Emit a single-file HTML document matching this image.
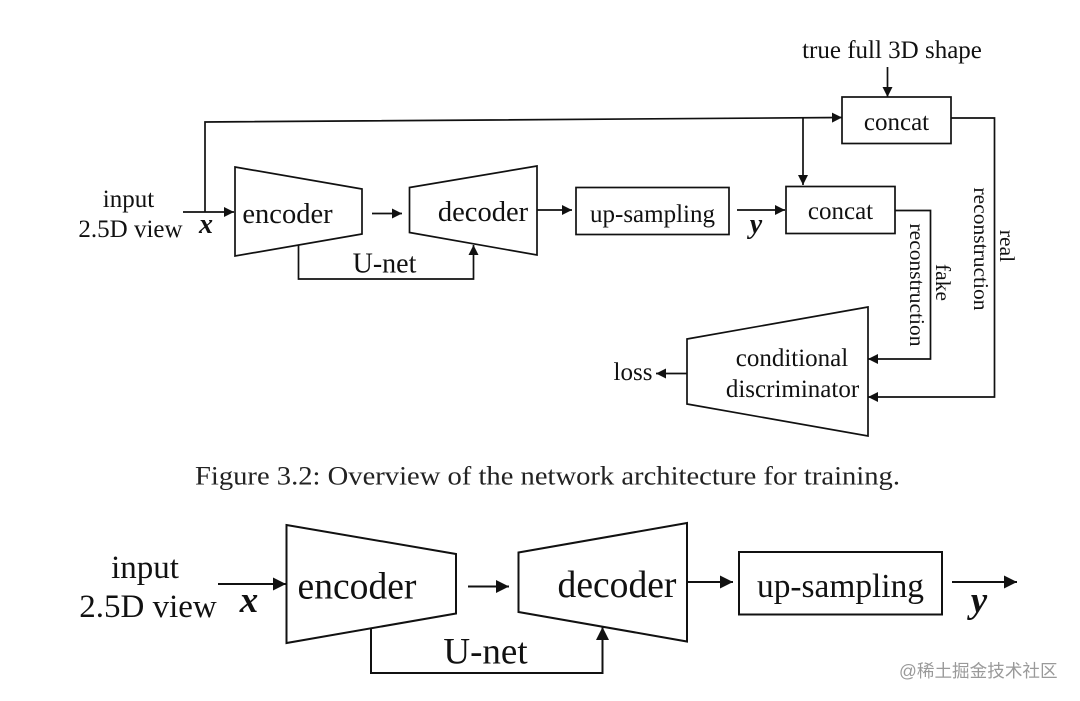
<!DOCTYPE html>
<html><head><meta charset="utf-8"><style>html,body{margin:0;padding:0;background:#fff}svg{display:block}</style></head><body>
<svg width="1080" height="701" viewBox="0 0 1080 701" xmlns="http://www.w3.org/2000/svg" font-family="'Liberation Serif',serif" fill="#111">
<defs>
<marker id="a" viewBox="0 0 10 10" refX="10" refY="5" markerWidth="10" markerHeight="11" markerUnits="userSpaceOnUse" orient="auto"><path d="M0 0L10 5L0 10z" fill="#111"/></marker>
<marker id="b" viewBox="0 0 10 10" refX="10" refY="5" markerWidth="13" markerHeight="14" markerUnits="userSpaceOnUse" orient="auto"><path d="M0 0L10 5L0 10z" fill="#111"/></marker>
</defs>
<g fill="none" stroke="#111" stroke-width="1.7">
<path d="M235 167L362 189V234L235 256Z"/>
<path d="M537 166L409.500 187.500V232.500L537 255Z"/>
<rect x="576" y="187.500" width="153" height="47"/>
<rect x="786" y="186.500" width="109" height="47"/>
<rect x="842" y="97" width="109" height="46.500"/>
<path d="M868 307L687 339V404L868 436Z"/>
<path d="M183 212H234" marker-end="url(#a)"/>
<path d="M205 212V122L842 117.500" marker-end="url(#a)"/>
<path d="M372 213.500H402" marker-end="url(#a)"/>
<path d="M537 210H572" marker-end="url(#a)"/>
<path d="M737 210H785" marker-end="url(#a)"/>
<path d="M298.500 245V279H473.500V245" marker-end="url(#a)"/>
<path d="M803 118.500V185" marker-end="url(#a)"/>
<path d="M887.500 67V97" marker-end="url(#a)"/>
<path d="M895 210.500H930.500V359H868" marker-end="url(#a)"/>
<path d="M951 118H994.500V397H868" marker-end="url(#a)"/>
<path d="M687 373.500H656" marker-end="url(#a)"/>
</g>
<g font-size="25" text-anchor="middle">
<text x="892" y="58">true full 3D shape</text>
<text x="896.500" y="130">concat</text>
<text x="840.500" y="219">concat</text>
<text x="652.500" y="222">up-sampling</text>
<text x="128.500" y="207">input</text>
<text x="130.500" y="237">2.5D view</text>
<text x="287.500" y="223" font-size="28.500">encoder</text>
<text x="483" y="221" font-size="28.500">decoder</text>
<text x="384.500" y="272.500" font-size="28">U-net</text>
<text x="792" y="366">conditional</text>
<text x="792.500" y="397">discriminator</text>
<text x="633" y="380">loss</text>
<text x="206" y="233" font-weight="bold" font-style="italic" font-size="28">x</text>
<text x="756" y="233" font-weight="bold" font-style="italic" font-size="28">y</text>
</g>
<g font-size="21.500" text-anchor="middle">
<text transform="translate(936,282.500) rotate(90)">fake</text>
<text transform="translate(910,285) rotate(90)">reconstruction</text>
<text transform="translate(1000,246) rotate(90)">real</text>
<text transform="translate(974,249) rotate(90)">reconstruction</text>
</g>
<text x="195" y="484.500" font-size="26" fill="#222" textLength="705" lengthAdjust="spacingAndGlyphs">Figure 3.2: Overview of the network architecture for training.</text>
<g fill="none" stroke="#111" stroke-width="2">
<path d="M286.500 525L456 554V613.500L286.500 643Z"/>
<path d="M687 523L518.500 552.500V612L687 641.500Z"/>
<rect x="739" y="552" width="203" height="62.500"/>
<path d="M218 584H286" marker-end="url(#b)"/>
<path d="M468 586.500H509" marker-end="url(#b)"/>
<path d="M687 582H733" marker-end="url(#b)"/>
<path d="M952 582H1017" marker-end="url(#b)"/>
<path d="M371 628V673H602.500V627" marker-end="url(#b)"/>
</g>
<g font-size="33" text-anchor="middle">
<text x="145" y="578">input</text>
<text x="148" y="617">2.5D view</text>
<text x="357" y="598.500" font-size="37.600">encoder</text>
<text x="617" y="597" font-size="37.600">decoder</text>
<text x="840.500" y="597" font-size="33.400">up-sampling</text>
<text x="485.500" y="663.500" font-size="37">U-net</text>
<text x="249" y="612" font-size="37" font-weight="bold" font-style="italic">x</text>
<text x="979" y="612" font-size="37" font-weight="bold" font-style="italic">y</text>
</g>
<text x="899" y="677" font-size="17.600" fill="#9a9a9a" font-family="'Liberation Sans','Noto Sans CJK SC',sans-serif">@稀土掘金技术社区</text>
</svg>
</body></html>
